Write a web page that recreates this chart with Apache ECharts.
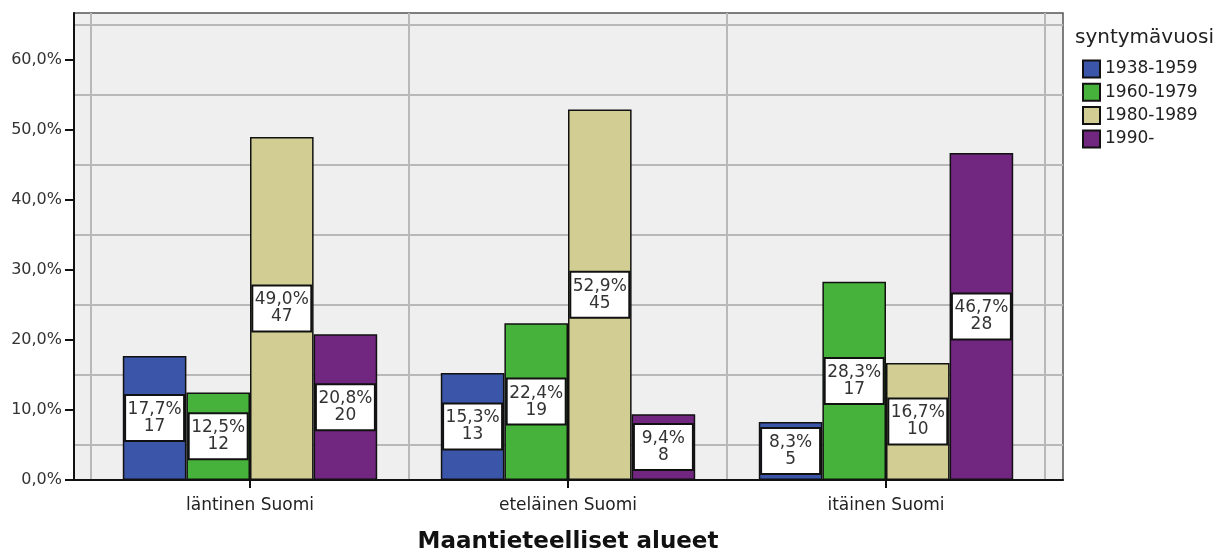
<!DOCTYPE html>
<html>
<head>
<meta charset="utf-8">
<script src="https://cdn.jsdelivr.net/npm/echarts@6/dist/echarts.min.js"></script>
<style>
  html, body { margin: 0; padding: 0; background: #fff; }
  #chart { width: 1224px; height: 552px; }
</style>
</head>
<body>
<div id="chart"></div>
<script>
// alueet (x-akseli)
var categories = ['läntinen Suomi', 'eteläinen Suomi', 'itäinen Suomi'];
var groups = ['1938-1959', '1960-1979', '1980-1989', '1990-'];
// prosentit ja lukumäärät per syntymävuosiryhmä
var pct1938 = [17.7, 15.3, 8.3];
var pct1960 = [12.5, 22.4, 28.3];
var pct1980 = [49.0, 52.9, 16.7];
var pct1990 = [20.8, 9.4, 46.7];
var n1938 = [17, 13, 5];
var n1960 = [12, 19, 17];
var n1980 = [47, 45, 10];
var n1990 = [20, 8, 28];
var yTicks = [0, 10, 20, 30, 40, 50, 60];

var colors = ['#3b55a9', '#46b23b', '#d2ce93', '#71267f'];
var font = 'DejaVu Sans';

var chart = echarts.init(document.getElementById('chart'));

function makeSeries(name, values, counts, idx) {
  return {
    name: name,
    type: 'bar',
    xAxisIndex: 1,
    yAxisIndex: 1,
    barGap: 0,
    barCategoryGap: '20%',
    data: values,
    itemStyle: { color: colors[idx], borderColor: '#111', borderWidth: 1.5 },
    label: {
      show: true,
      position: 'inside',
      formatter: function (p) {
        return p.value.toFixed(1).replace('.', ',') + '%\n' + counts[p.dataIndex];
      },
      backgroundColor: '#fff',
      borderColor: '#111',
      borderWidth: 2,
      width: 57,
      padding: [5, 0, 5, 0],
      lineHeight: 17,
      align: 'center',
      color: '#333',
      fontSize: 17,
      fontFamily: font
    },
    z: 5
  };
}

var option = {
  backgroundColor: '#fff',
  animation: false,
  title: {
    text: 'syntymävuosi',
    left: 1070,
    top: 23,
    textStyle: { fontSize: 20, fontWeight: 'normal', color: '#222', fontFamily: font }
  },
  legend: {
    orient: 'vertical',
    left: 1082,
    top: 59.5,
    padding: 0,
    itemWidth: 17,
    itemHeight: 17,
    itemGap: 4.3,
    icon: 'rect',
    data: groups,
    textStyle: { fontSize: 17, lineHeight: 17, color: '#222', fontFamily: font }
  },
  grid: [
    // ulompi kehys
    { left: 74, right: 161, top: 13, bottom: 72, outerBoundsMode: 'none', containLabel: false,
      show: true, backgroundColor: '#efefef', borderColor: '#555', borderWidth: 1.5 },
    // pylväät
    { left: 91, right: 179, top: 13, bottom: 72, outerBoundsMode: 'none', containLabel: false }
  ],
  xAxis: [
    {
      type: 'value', gridIndex: 0, min: 0, max: 1,
      axisLine: { show: true, onZero: false, lineStyle: { color: '#111', width: 2 } },
      axisTick: { show: false }, axisLabel: { show: false }, splitLine: { show: false }
    },
    {
      type: 'category', gridIndex: 1, data: categories,
      axisLine: { show: false },
      axisTick: { show: true, alignWithLabel: true, length: 8, lineStyle: { color: '#111', width: 2 } },
      axisLabel: { margin: 17, fontSize: 17, color: '#222', fontFamily: font },
      splitLine: { show: true, lineStyle: { color: '#b8b8b8', width: 2 } },
      name: 'Maantieteelliset alueet',
      nameLocation: 'middle',
      nameGap: 51,
      nameTextStyle: { fontSize: 23, fontWeight: 'bold', color: '#111', fontFamily: font }
    }
  ],
  yAxis: [
    {
      type: 'value', gridIndex: 0, min: yTicks[0], max: 66.7, interval: 10,
      axisLine: { show: true, lineStyle: { color: '#111', width: 2 } },
      axisTick: { show: true, length: 9, lineStyle: { color: '#111', width: 2 } },
      axisLabel: {
        margin: 12, fontSize: 16, color: '#333', fontFamily: font, showMaxLabel: false,
        formatter: function (v) { return v.toFixed(1).replace('.', ',') + '%'; }
      },
      splitLine: { show: false },
      minorTick: { show: false, splitNumber: 2 },
      minorSplitLine: { show: true, lineStyle: { color: '#b8b8b8', width: 2 } }
    },
    {
      type: 'value', gridIndex: 1, min: 0, max: 66.7, show: false,
      splitLine: { show: false }
    }
  ],
  series: [
    makeSeries(groups[0], pct1938, n1938, 0),
    makeSeries(groups[1], pct1960, n1960, 1),
    makeSeries(groups[2], pct1980, n1980, 2),
    makeSeries(groups[3], pct1990, n1990, 3)
  ]
};

chart.setOption(option);
</script>
</body>
</html>
